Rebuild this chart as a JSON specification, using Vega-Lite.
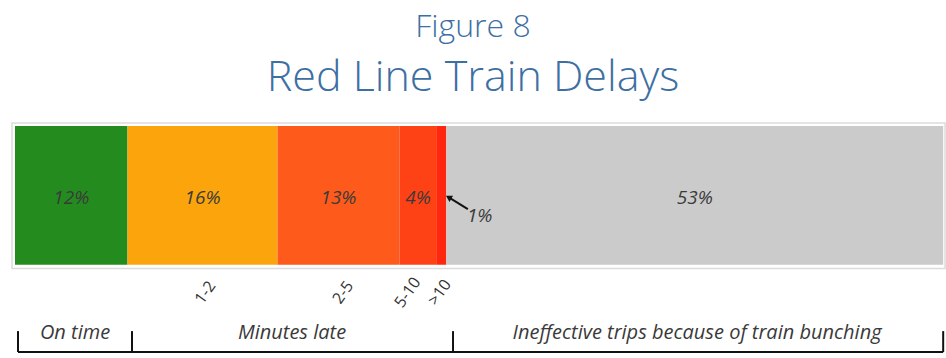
{
  "$schema": "https://vega.github.io/schema/vega-lite/v6.json",
  "width": 946,
  "height": 358,
  "autosize": {"type": "fit", "contains": "padding"},
  "padding": {"top": 11, "left": 0, "right": 0, "bottom": 0},
  "background": "white",
  "config": {"view": {"stroke": null}},
  "title": {
    "text": "Figure 8",
    "subtitle": "Red Line Train Delays",
    "anchor": "middle",
    "font": "Open Sans",
    "fontSize": 32,
    "fontWeight": 300,
    "color": "#3d6fa3",
    "subtitleFont": "Open Sans",
    "subtitleFontSize": 43,
    "subtitleFontWeight": 300,
    "subtitleColor": "#3d6fa3",
    "subtitlePadding": 13,
    "offset": 8
  },
  "datasets": {
    "segments": [
      {"order": 1, "seg": "On time", "label": "12%", "pct": 12},
      {"order": 2, "seg": "1-2", "label": "16%", "pct": 16},
      {"order": 3, "seg": "2-5", "label": "13%", "pct": 13},
      {"order": 4, "seg": "5-10", "label": "4%", "pct": 4},
      {"order": 5, "seg": ">10", "label": "1%", "pct": 1},
      {"order": 6, "seg": "Bunching", "label": "53%", "pct": 53}
    ],
    "minutes": [
      {"name": "1-2", "x": 20.3},
      {"name": "2-5", "x": 35.0},
      {"name": "5-10", "x": 41.9},
      {"name": ">10", "x": 45.3}
    ],
    "ticks": [{"x": 0.32}, {"x": 12.48}, {"x": 46.72}, {"x": 99.0}],
    "groups": [
      {"name": "On time", "x": 6.4},
      {"name": "Minutes late", "x": 29.55},
      {"name": "Ineffective trips because of train bunching", "x": 72.75}
    ]
  },
  "layer": [
    {
      "data": {"values": [{"a": 1}]},
      "mark": {"type": "rect", "fill": "white", "stroke": "#dcdcdc", "strokeWidth": 1.5},
      "encoding": {
        "x": {"datum": -0.32, "type": "quantitative", "scale": {"domain": [-1.6, 99.3], "nice": false, "zero": false}, "axis": null},
        "x2": {"datum": 99.2},
        "y": {"datum": 94.4, "type": "quantitative", "scale": {"domain": [0, 100], "nice": false, "zero": false}, "axis": null},
        "y2": {"datum": 35.9}
      }
    },
    {
      "data": {"name": "segments"},
      "transform": [
        {"stack": "pct", "groupby": [], "sort": [{"field": "order"}], "as": ["start", "end"]},
        {"calculate": "(datum.start + datum.end) / 2", "as": "mid"}
      ],
      "layer": [
        {
          "mark": {"type": "rect"},
          "encoding": {
            "x": {"field": "start", "type": "quantitative"},
            "x2": {"field": "end"},
            "y": {"datum": 93.2, "type": "quantitative"},
            "y2": {"datum": 37.45},
            "color": {
              "field": "seg",
              "type": "nominal",
              "scale": {
                "domain": ["On time", "1-2", "2-5", "5-10", ">10", "Bunching"],
                "range": ["#248c1f", "#fca40c", "#fe5a1b", "#ff4216", "#ff2710", "#cbcbcb"]
              },
              "legend": null
            }
          }
        },
        {
          "transform": [{"filter": "datum.label != '1%'"}],
          "mark": {"type": "text", "font": "Open Sans", "fontSize": 19, "fontStyle": "italic", "color": "#3a3a3a"},
          "encoding": {
            "x": {"field": "mid", "type": "quantitative"},
            "y": {"datum": 64.1, "type": "quantitative"},
            "text": {"field": "label"}
          }
        }
      ]
    },
    {
      "data": {"values": [{"label": "1%"}]},
      "layer": [
        {
          "mark": {"type": "text", "font": "Open Sans", "fontSize": 19, "fontStyle": "italic", "color": "#3a3a3a", "align": "left"},
          "encoding": {
            "x": {"datum": 48.2, "type": "quantitative"},
            "y": {"datum": 57.0, "type": "quantitative"},
            "text": {"field": "label"}
          }
        },
        {
          "mark": {"type": "rule", "color": "#111", "strokeWidth": 2},
          "encoding": {
            "x": {"datum": 48.3, "type": "quantitative"},
            "x2": {"datum": 46.4},
            "y": {"datum": 59.8, "type": "quantitative"},
            "y2": {"datum": 64.2}
          }
        },
        {
          "mark": {"type": "point", "shape": "triangle-up", "filled": true, "color": "#111", "size": 50, "angle": 300, "opacity": 1},
          "encoding": {
            "x": {"datum": 46.25, "type": "quantitative"},
            "y": {"datum": 64.5, "type": "quantitative"}
          }
        }
      ]
    },
    {
      "data": {"name": "minutes"},
      "mark": {"type": "text", "font": "Open Sans", "fontSize": 16, "angle": 305, "color": "#333"},
      "encoding": {
        "x": {"field": "x", "type": "quantitative"},
        "y": {"datum": 26.3, "type": "quantitative"},
        "text": {"field": "name"}
      }
    },
    {
      "data": {"values": [{"a": 1}]},
      "mark": {"type": "rule", "color": "#111", "strokeWidth": 2},
      "encoding": {
        "x": {"datum": 0.32, "type": "quantitative"},
        "x2": {"datum": 99.0},
        "y": {"datum": 2.4, "type": "quantitative"}
      }
    },
    {
      "data": {"name": "ticks"},
      "mark": {"type": "rule", "color": "#111", "strokeWidth": 2},
      "encoding": {
        "x": {"field": "x", "type": "quantitative"},
        "y": {"datum": 2.4, "type": "quantitative"},
        "y2": {"datum": 10.8}
      }
    },
    {
      "data": {"name": "groups"},
      "mark": {"type": "text", "font": "Open Sans", "fontSize": 20, "fontStyle": "italic", "color": "#3a3a3a"},
      "encoding": {
        "x": {"field": "x", "type": "quantitative"},
        "y": {"datum": 10.0, "type": "quantitative"},
        "text": {"field": "name"}
      }
    }
  ]
}
